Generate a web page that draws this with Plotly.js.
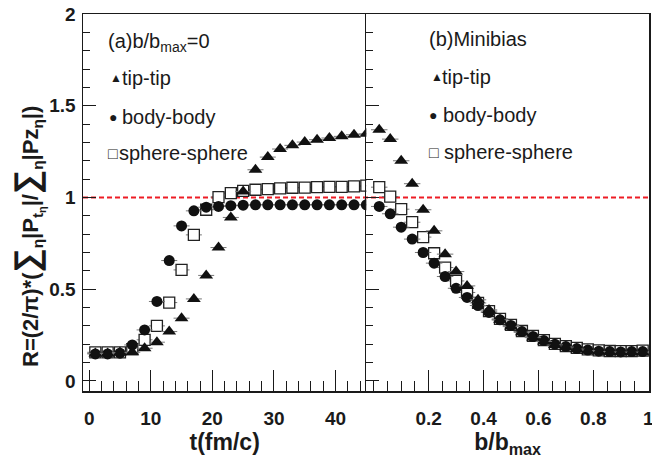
<!DOCTYPE html>
<html>
<head>
<meta charset="utf-8">
<script src="https://cdn.plot.ly/plotly-3.0.1.min.js"></script>
<style>
  html, body { margin: 0; padding: 0; background: #fff; }
  #chart { width: 652px; height: 466px; }
</style>
</head>
<body>
<div id="chart"></div>
<script>
// ---- data ----
const tTime = [1, 3, 5, 7, 9, 11, 13, 15, 17, 19, 21, 23, 25, 27, 29, 31, 33, 35, 37, 39, 41, 43, 45];
const tipTipT = [0.150, 0.150, 0.155, 0.156, 0.178, 0.211, 0.269, 0.342, 0.447, 0.575, 0.727, 0.891, 1.033, 1.151, 1.220, 1.264, 1.284, 1.302, 1.315, 1.324, 1.333, 1.342, 1.347];
const bodyBodyT = [0.147, 0.147, 0.151, 0.196, 0.278, 0.433, 0.656, 0.845, 0.927, 0.947, 0.951, 0.955, 0.958, 0.960, 0.960, 0.960, 0.960, 0.960, 0.960, 0.960, 0.960, 0.960, 0.960];
const sphereT = [0.156, 0.156, 0.156, 0.173, 0.224, 0.300, 0.427, 0.605, 0.796, 0.933, 1.002, 1.024, 1.036, 1.042, 1.045, 1.049, 1.053, 1.054, 1.056, 1.058, 1.058, 1.060, 1.064];

const bRatio = [0.02, 0.06, 0.10, 0.14, 0.18, 0.22, 0.26, 0.30, 0.34, 0.38, 0.42, 0.46, 0.50, 0.54, 0.58, 0.62, 0.66, 0.70, 0.74, 0.78, 0.82, 0.86, 0.90, 0.94, 0.98];
const tipTipB = [1.369, 1.318, 1.200, 1.075, 0.933, 0.818, 0.691, 0.596, 0.518, 0.442, 0.387, 0.333, 0.296, 0.265, 0.236, 0.215, 0.196, 0.184, 0.173, 0.165, 0.160, 0.157, 0.156, 0.156, 0.156];
const bodyBodyB = [0.951, 0.911, 0.838, 0.773, 0.700, 0.642, 0.569, 0.505, 0.455, 0.411, 0.373, 0.333, 0.302, 0.269, 0.242, 0.220, 0.200, 0.187, 0.176, 0.168, 0.162, 0.160, 0.158, 0.160, 0.160];
const sphereB = [1.056, 1.005, 0.936, 0.865, 0.784, 0.696, 0.618, 0.545, 0.482, 0.425, 0.380, 0.338, 0.305, 0.272, 0.245, 0.222, 0.202, 0.190, 0.180, 0.172, 0.166, 0.163, 0.162, 0.162, 0.165];

const xTickVals1 = [0, 10, 20, 30, 40];
const xTickText1 = ['0', '10', '20', '30', '40'];
const xTickVals2 = [0.2, 0.4, 0.6, 0.8, 1];
const xTickText2 = ['0.2', '0.4', '0.6', '0.8', '1'];
const yTickVals = [0, 0.5, 1, 1.5, 2];
const yTickText = ['0', '0.5', '1', '1.5', '2'];
const seriesNames = ['tip-tip', 'body-body', 'sphere-sphere'];

// ---- styling ----
const FONT = 'Liberation Sans, Arial, Helvetica, sans-serif';
const LINE = '#1a1a1a';
const W = 652, H = 466, ML = 83, MR = 3, MT = 14, MB = 75;
const PW = W - ML - MR, PH = H - MT - MB;
const px = x => (x - ML) / PW;          // pixel -> paper x
const py = y => (H - MB - y) / PH;      // pixel -> paper y

const styles = {
  'tip-tip':       { symbol: 'triangle-up', size: 12, color: '#111', line: { width: 0 } },
  'body-body':     { symbol: 'circle', size: 11, color: '#111', line: { width: 0 } },
  'sphere-sphere': { symbol: 'square', size: 11, color: '#ffffff', line: { width: 1.3, color: '#222' } }
};

function mk(x, y, name, xa, ya, err) {
  const s = styles[name];
  return {
    x: x, y: y, name: name, type: 'scatter', mode: 'markers',
    xaxis: xa, yaxis: ya, showlegend: false,
    marker: { symbol: s.symbol, size: s.size, color: s.color, line: s.line },
    error_x: { type: 'constant', value: err, width: 0, thickness: 1, color: '#777' },
    hoverinfo: 'x+y+name'
  };
}

// squares first so filled circles / triangles sit on top (as in the reference)
const data = [
  mk(tTime, sphereT, seriesNames[2], 'x', 'y', 1.3),
  mk(tTime, bodyBodyT, seriesNames[1], 'x', 'y', 1.3),
  mk(tTime, tipTipT, seriesNames[0], 'x', 'y', 1.3),
  mk(bRatio, sphereB, seriesNames[2], 'x2', 'y2', 0.03),
  mk(bRatio, bodyBodyB, seriesNames[1], 'x2', 'y2', 0.03),
  mk(bRatio, tipTipB, seriesNames[0], 'x2', 'y2', 0.03)
];

const tickFont = { family: FONT, size: 19, color: '#1a1a1a', weight: 'bold' };
const baseAxis = {
  showline: true, linecolor: LINE, linewidth: 1.5, mirror: true,
  showgrid: false, zeroline: false,
  ticks: 'inside', tickcolor: LINE, tickwidth: 1,
  tickfont: tickFont, tickmode: 'array', ticklabeloverflow: 'allow'
};

const yRange = [-0.055, 2.0];

const layout = {
  width: W, height: H,
  margin: { l: ML, r: MR, t: MT, b: MB, pad: 0 },
  paper_bgcolor: '#ffffff', plot_bgcolor: '#ffffff',
  font: { family: FONT, color: '#1a1a1a' },
  showlegend: false,
  xaxis: Object.assign({}, baseAxis, {
    domain: [0, 0.5006], range: [-1, 45], anchor: 'y',
    tickvals: xTickVals1, ticktext: xTickText1, ticklen: 21, ticklabelstandoff: 10,
    minor: { dtick: 2, tick0: 0, ticks: 'inside', ticklen: 10, tickcolor: LINE, tickwidth: 1 },
    title: { text: 't(fm/c)', font: { family: FONT, size: 23, weight: 'bold', color: '#1a1a1a' }, standoff: 4 }
  }),
  yaxis: Object.assign({}, baseAxis, {
    domain: [0, 1], range: yRange, anchor: 'x', mirror: false,
    tickvals: yTickVals, ticktext: yTickText, ticklen: 13, ticklabelstandoff: 2,
    minor: { dtick: 0.1, tick0: 0, ticks: 'inside', ticklen: 6.5, tickcolor: LINE, tickwidth: 1 }
  }),
  xaxis2: Object.assign({}, baseAxis, {
    domain: [0.5006, 1], range: [-0.027, 1.003], anchor: 'y2',
    tickvals: xTickVals2, ticktext: xTickText2, ticklen: 21, ticklabelstandoff: 10,
    minor: { dtick: 0.05, tick0: 0, ticks: 'inside', ticklen: 10, tickcolor: LINE, tickwidth: 1 },
    title: { text: 'b/b<sub>max</sub>', font: { family: FONT, size: 23, weight: 'bold', color: '#1a1a1a' }, standoff: 4 }
  }),
  yaxis2: Object.assign({}, baseAxis, {
    domain: [0, 1], range: yRange, anchor: 'x2',
    tickvals: yTickVals, ticktext: yTickText, ticklen: 13, showticklabels: false,
    minor: { dtick: 0.1, tick0: 0, ticks: 'inside', ticklen: 6.5, tickcolor: LINE, tickwidth: 1 }
  }),
  shapes: [
    { type: 'line', xref: 'paper', yref: 'y', x0: 0, x1: 1, y0: 1, y1: 1,
      line: { color: '#ee1c25', width: 2, dash: '5px,3px' }, layer: 'below' }
  ],
  annotations: []
};

const legFont = { family: FONT, size: 20, color: '#1a1a1a' };
function ann(text, x, y, size) {
  return { text: text, xref: 'paper', yref: 'paper', x: px(x), y: py(y),
           xanchor: 'left', yanchor: 'middle', showarrow: false,
           font: Object.assign({}, legFont, size ? { size: size } : {}), borderpad: 0 };
}
// y axis title
layout.annotations.push({
  text: 'R=(2/π)*(<span style="font-size:34px">∑</span><sub>η</sub>|P<sub>t<sub>η</sub></sub>|/<span style="font-size:34px">∑</span><sub>η</sub>|Pz<sub>η</sub>|)',
  xref: 'paper', yref: 'paper', x: px(28), y: py(237), textangle: -90,
  xanchor: 'center', yanchor: 'middle', showarrow: false,
  font: { family: FONT, size: 22, weight: 'bold', color: '#1a1a1a' }
});
// panel (a) legend
layout.annotations.push(ann('(a)b/b<sub>max</sub>=0', 107, 42));
layout.annotations.push(ann('▲', 109, 78, 12));
layout.annotations.push(ann(seriesNames[0], 121, 78));
layout.annotations.push(ann('●', 108, 117, 14));
layout.annotations.push(ann(seriesNames[1], 121, 117));
layout.annotations.push(ann('□', 107, 153, 16));
layout.annotations.push(ann(seriesNames[2], 118, 153));
// panel (b) legend
layout.annotations.push(ann('(b)Minibias', 428, 39));
layout.annotations.push(ann('▲', 430, 77, 12));
layout.annotations.push(ann(seriesNames[0], 441, 77));
layout.annotations.push(ann('●', 428, 115, 14));
layout.annotations.push(ann(seriesNames[1], 442, 115));
layout.annotations.push(ann('□', 428, 152, 16));
layout.annotations.push(ann(seriesNames[2], 443, 152));

Plotly.newPlot('chart', data, layout, { displayModeBar: false, staticPlot: true });
</script>
</body>
</html>
